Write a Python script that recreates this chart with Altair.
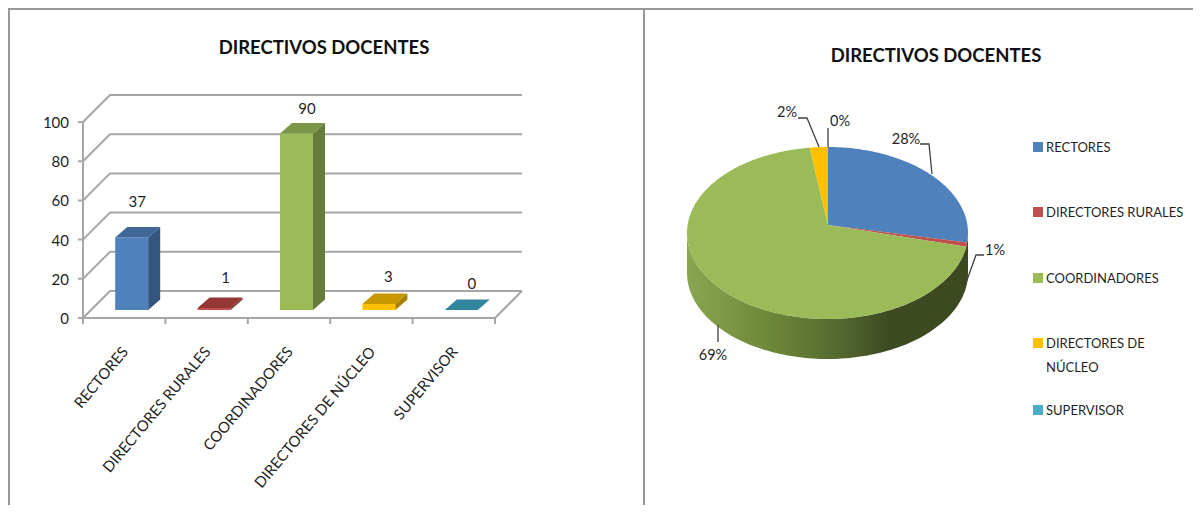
import numpy as np
import pandas as pd
import altair as alt

# ---- data
categories = ["RECTORES", "DIRECTORES RURALES", "COORDINADORES", "DIRECTORES DE NÚCLEO", "SUPERVISOR"]
values = [37, 1, 90, 3, 0]
y_ticks = [0, 20, 40, 60, 80, 100]
x_ticks = [0, 1, 2, 3, 4, 5]
title_text = "DIRECTIVOS DOCENTES"
front_colors = ["#4f81bd", "#c0504d", "#9bbb59", "#ffc000", "#4bacc6"]
top_colors = ["#3f6697", "#953735", "#7c9647", "#c79800", "#31859c"]
side_colors = ["#34557f", "#7a2e2b", "#667c3b", "#a87f00", "#2d7488"]
value_label_dx = [5.5, 11.5, 10.5, 9.5, 10.5]
value_label_dy = [36, 31, 26, 28, 27]
legend_rows = [("RECTORES", 147, 0), ("DIRECTORES RURALES", 212, 1), ("COORDINADORES", 278, 2),
               ("DIRECTORES DE", 343, 3), ("NÚCLEO", 367, None), ("SUPERVISOR", 410, 4)]
# pie label: text index, label centre and leader polyline
pie_labels = [
    (0, 906, 139, [(920, 144), (929, 144), (932, 174)]),
    (1, 995, 250, [(984, 255), (976, 255), (966, 283)]),
    (2, 713, 355, [(718, 325), (718, 342)]),
    (3, 787, 112, [(798, 118), (807, 118), (819, 147)]),
    (4, 840, 121, [(828, 128), (828, 147)]),
]

W, H = 1185, 497
OFF = 8
FONT = "Lato"
TXT = "#1f1f1f"
GRID = "#a6a6a6"

# ---- left panel: 3D column chart on its own scales
px_per_cat = 82.4
px_per_val = 1.96
sx = alt.Scale(domain=[0, 5], range=[83 - OFF, 495 - OFF])
sy = alt.Scale(domain=[0, 100], range=[318 - OFF, 122 - OFF])
wall_dx, wall_dy = 27 / px_per_cat, 27 / px_per_val
bar_dx, bar_dy = 12 / px_per_cat, 10.5 / px_per_val
bar_w = 33 / px_per_cat
bar_shift = 7.5 / px_per_cat
bar_base = 8 / px_per_val
tick_x = 5 / px_per_cat
tick_y = 6 / px_per_val

wall_rows = []
for k, t in enumerate(y_ticks):
    pts = [(-tick_x, t), (0, t), (wall_dx, t + wall_dy), (5 + wall_dx, t + wall_dy)]
    for i, (a, b) in enumerate(pts):
        wall_rows.append(dict(g=f"w{k}", i=i, x=a, y=b))
for i, (a, b) in enumerate([(5, 0), (5 + wall_dx, wall_dy)]):
    wall_rows.append(dict(g="floor", i=i, x=a, y=b))
for i, (a, b) in enumerate([(0, 100), (0, 0), (5, 0)]):
    wall_rows.append(dict(g="domain", i=i, x=a, y=b))
for k in x_ticks:
    for i, b in enumerate([0, -tick_y]):
        wall_rows.append(dict(g=f"t{k}", i=i, x=k, y=b))
walls = pd.DataFrame(wall_rows)
y_labels = pd.DataFrame(dict(y=y_ticks, text=[str(t) for t in y_ticks]))

bar_rows, face_rows, lab_rows = [], [], []
for n, (c, v) in enumerate(zip(categories, values)):
    x0 = n + 0.5 + bar_shift - bar_w / 2
    x1 = x0 + bar_w
    y0 = bar_base
    y1 = bar_base + v
    bar_rows.append(dict(x=x0, x2=x1, y=y0, y2=y1, color=front_colors[n]))
    top = [(x0, y1), (x1, y1), (x1 + bar_dx, y1 + bar_dy), (x0 + bar_dx, y1 + bar_dy)]
    side = [(x1, y0), (x1 + bar_dx, y0 + bar_dy), (x1 + bar_dx, y1 + bar_dy), (x1, y1)]
    for i, (a, b) in enumerate(side):
        face_rows.append(dict(g=f"s{n}", i=i, x=a, y=b, color=side_colors[n]))
    for i, (a, b) in enumerate(top):
        face_rows.append(dict(g=f"t{n}", i=i, x=a, y=b, color=top_colors[n]))
    lab_rows.append(dict(x=n + 0.5 + bar_shift + value_label_dx[n] / px_per_cat,
                         y=y1 + value_label_dy[n] / px_per_val, text=str(v)))
bars = pd.DataFrame(bar_rows)
faces = pd.DataFrame(face_rows)
val_labels = pd.DataFrame(lab_rows)
cat_labels = pd.DataFrame(dict(x=[n + 0.5 + 1 / px_per_cat for n in range(5)], text=categories))

X = alt.X("x:Q", scale=sx, axis=None)
Y = alt.Y("y:Q", scale=sy, axis=None)

axes_layer = alt.Chart(walls).mark_line(color=GRID, strokeWidth=2).encode(
    x=X, y=Y, detail="g:N", order="i:Q")
y_label_layer = alt.Chart(y_labels).mark_text(font=FONT, fontSize=15, color=TXT, align="right", dy=1).encode(
    x=alt.value(69 - OFF), y=Y, text="text:N")
front = alt.Chart(bars).mark_rect().encode(
    x=X, x2="x2:Q", y=Y, y2="y2:Q", color=alt.Color("color:N", scale=None))
face = alt.Chart(faces).mark_line(filled=True, strokeWidth=0).encode(
    x=X, y=Y, detail="g:N", order="i:Q", color=alt.Color("color:N", scale=None))
val_text = alt.Chart(val_labels).mark_text(font=FONT, fontSize=15, color=TXT, dy=1).encode(x=X, y=Y, text="text:N")
cat_text = alt.Chart(cat_labels).mark_text(font=FONT, fontSize=15, color=TXT, angle=310, align="right",
                                           baseline="middle").encode(
    x=X, y=alt.value(349 - OFF), text="text:N")
left_title = alt.Chart(pd.DataFrame(dict(text=[title_text]))).mark_text(
    font=FONT, fontSize=18.5, fontWeight="bold", color="#111111", dy=1).encode(
    x=alt.value(324 - OFF), y=alt.value(47 - OFF), text="text:N")
left = alt.layer(axes_layer, y_label_layer, front, face, val_text, cat_text, left_title)

# ---- right panel: elliptical pie with thickness, unit coordinates on its own scales
CX, CY, RX, RY = 827.5, 233, 140.5, 86
APEX = (828, 225)
DEPTH = 40
ux = lambda p: (p - CX) / RX
uy = lambda p: (CY - p) / RY
sx2 = alt.Scale(domain=[-1, 1], range=[CX - RX - OFF, CX + RX - OFF])
sy2 = alt.Scale(domain=[-1, 1], range=[CY + RY - OFF, CY - RY - OFF])
X2 = alt.X("x:Q", scale=sx2, axis=None)
Y2 = alt.Y("y:Q", scale=sy2, axis=None)

ax, ay = ux(APEX[0]), uy(APEX[1])


def rim(theta):
    # where the ray from the apex, at angle theta clockwise from the top, meets the rim
    dx, dy = np.sin(theta), np.cos(theta)
    b = ax * dx + ay * dy
    c = ax * ax + ay * ay - 1
    t = -b + np.sqrt(b * b - c)
    return ax + t * dx, ay + t * dy


total = sum(values)
edges = np.cumsum([0] + values) / total * 2 * np.pi
pie_rows = []
for n in range(5):
    if values[n] == 0:
        continue
    pts = [(ax, ay)] + [rim(a) for a in np.linspace(edges[n], edges[n + 1], 2 + int(values[n] * 3))]
    for i, (a, b) in enumerate(pts):
        pie_rows.append(dict(g=f"p{n}", i=i, x=a, y=b, color=front_colors[n]))
pie_top = pd.DataFrame(pie_rows)

ang = np.linspace(-np.pi / 2, np.pi / 2, 121)
band_x = np.sin(ang)
band_y = -np.cos(ang)
drop = DEPTH / RY
band = pd.DataFrame(dict(
    x=np.r_[band_x, band_x[::-1]],
    y=np.r_[band_y, band_y[::-1] - drop],
    i=np.arange(242)))

side_grad = alt.LinearGradient(gradient="linear", x1=0, x2=1, y1=0, y2=0, stops=[
    alt.GradientStop(color="#8aa651", offset=0),
    alt.GradientStop(color="#6d8739", offset=0.3),
    alt.GradientStop(color="#53682f", offset=0.55),
    alt.GradientStop(color="#3d4a22", offset=0.72),
    alt.GradientStop(color="#3c4820", offset=1),
])
band_layer = alt.Chart(band).mark_line(filled=True, strokeWidth=0, color=side_grad).encode(x=X2, y=Y2, order="i:Q")
top_layer = alt.Chart(pie_top).mark_line(filled=True, strokeWidth=0).encode(
    x=X2, y=Y2, detail="g:N", order="i:Q", color=alt.Color("color:N", scale=None))

lead_rows, lab2_rows = [], []
for n, px, py, poly in pie_labels:
    lab2_rows.append(dict(x=ux(px), y=uy(py), text=f"{round(values[n] / total * 100)}%"))
    for i, (a, b) in enumerate(poly):
        lead_rows.append(dict(g=n, i=i, x=ux(a), y=uy(b)))
lead_layer = alt.Chart(pd.DataFrame(lead_rows)).mark_line(color="#404040", strokeWidth=1.3).encode(
    x=X2, y=Y2, detail="g:N", order="i:Q")
lab2_layer = alt.Chart(pd.DataFrame(lab2_rows)).mark_text(font=FONT, fontSize=14.5, color=TXT, dy=1).encode(
    x=X2, y=Y2, text="text:N")

leg_swatch = pd.DataFrame([dict(x=ux(1038), y=uy(py), color=front_colors[n]) for _, py, n in legend_rows if n is not None])
leg_text = pd.DataFrame([dict(x=ux(1046), y=uy(py), text=t) for t, py, _ in legend_rows])
swatch_layer = alt.Chart(leg_swatch).mark_square(size=100, opacity=1).encode(
    x=X2, y=Y2, color=alt.Color("color:N", scale=None))
leg_text_layer = alt.Chart(leg_text).mark_text(font=FONT, fontSize=13, color=TXT, align="left", dy=1).encode(
    x=X2, y=Y2, text="text:N")
right_title = alt.Chart(pd.DataFrame(dict(text=[title_text]))).mark_text(
    font=FONT, fontSize=18.5, fontWeight="bold", color="#111111", dy=1).encode(
    x=alt.value(936 - OFF), y=alt.value(55 - OFF), text="text:N")
right = alt.layer(band_layer, top_layer, lead_layer, lab2_layer, swatch_layer, leg_text_layer, right_title)

# ---- frame lines
frame_top = alt.Chart(pd.DataFrame(dict(a=[0]))).mark_rule(color="#999999", strokeWidth=2).encode(
    x=alt.value(0), x2=alt.value(W), y=alt.value(1))
frame_l = alt.Chart(pd.DataFrame(dict(a=[0]))).mark_rule(color="#999999", strokeWidth=2).encode(
    x=alt.value(1), y=alt.value(0), y2=alt.value(H))
frame_m = alt.Chart(pd.DataFrame(dict(a=[0]))).mark_rule(color="#999999", strokeWidth=2).encode(
    x=alt.value(644 - OFF), y=alt.value(0), y2=alt.value(H))
frames = alt.layer(frame_top, frame_l, frame_m)

chart = alt.layer(frames, left, right).resolve_scale(x="independent", y="independent").properties(
    width=W, height=H, padding=0, autosize="none", background="white"
).configure_view(stroke=None)

chart.save("out.html", embed_options={"renderer": "svg", "actions": False})
